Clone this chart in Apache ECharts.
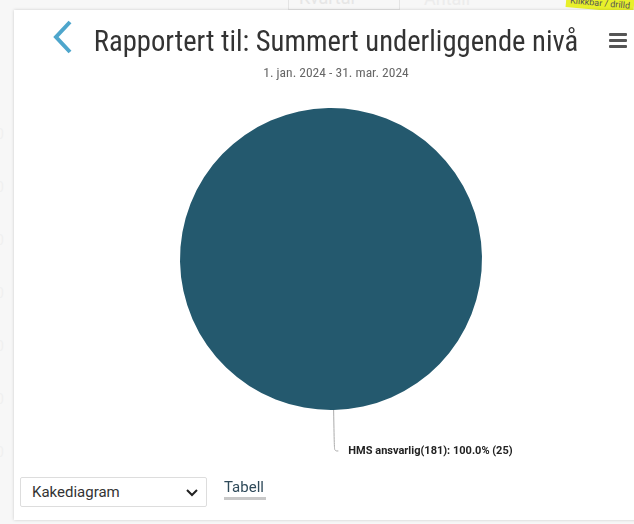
<!DOCTYPE html>
<html>
<head>
<meta charset="utf-8">
<script src="https://cdn.jsdelivr.net/npm/echarts@6/dist/echarts.min.js"></script>
<style>
  html, body { margin: 0; padding: 0; width: 634px; height: 524px; overflow: hidden; background: #f7f7f7; font-family: Roboto, sans-serif; }
  .bg-select { position: absolute; top: -14px; left: 288px; width: 112px; height: 24px; border: 1px solid #e4e4e4; color: #e6e6e6; font-size: 18px; padding-left: 10px; box-sizing: border-box; }
  .bg-antall { position: absolute; top: -12px; left: 424px; color: #ececec; font-size: 18px; }
  .bg-nums { position: absolute; left: -4px; top: 108px; color: #f0f0f0; font-size: 14px; line-height: 53px; }
  .hint { position: absolute; top: -3px; left: 566px; background: #e8f02a; color: #555; font-size: 9px; line-height: 10px; padding: 1px 4px 2px; transform: rotate(5deg); white-space: nowrap; }
  .card { position: absolute; left: 14px; top: 10px; width: 640px; height: 510px; background: #fff; box-shadow: 0 0 3px rgba(0,0,0,0.18); }
  #chart { position: absolute; left: 0; top: 0; width: 634px; height: 524px; }
  .back { position: absolute; left: 51px; top: 20px; width: 22px; height: 34px; }
  .menu { position: absolute; left: 609px; top: 33px; width: 18px; }
  .menu div { height: 3px; background: #555; margin-bottom: 3px; border-radius: 1px; }
  .sel { position: absolute; left: 20px; top: 477px; width: 187px; height: 30px; border: 1px solid #ddd; border-radius: 2px; background: #fff; box-sizing: border-box; font-size: 15px; color: #333; padding: 5px 0 0 11px; }
  .sel svg { position: absolute; right: 8px; top: 11px; }
  .tab { position: absolute; left: 224px; top: 478px; font-size: 15px; color: #2f4a5a; }
  .tab-bar { position: absolute; left: 224px; top: 497px; width: 42px; height: 3px; background: #c8c8c8; }
</style>
</head>
<body>
<div class="bg-select">Kvartal</div>
<div class="bg-antall">Antall</div>
<div class="bg-nums">0<br>0<br>0<br>0<br>0<br>0<br>0</div>
<div class="hint">Klikkbar / drilld</div>
<div class="card"></div>
<div id="chart"></div>
<svg class="back" viewBox="0 0 22 34"><polyline points="19,2 5,17 19,32" fill="none" stroke="#4ea6cc" stroke-width="4"/></svg>
<div class="menu"><div></div><div></div><div></div></div>
<div class="sel">Kakediagram<svg width="12" height="8" viewBox="0 0 12 8"><polyline points="1,1 6,6 11,1" fill="none" stroke="#222" stroke-width="2"/></svg></div>
<div class="tab">Tabell</div>
<div class="tab-bar"></div>
<script>
const titleText = 'Rapportert til: Summert underliggende nivå';
const subtitleText = '1. jan. 2024 - 31. mar. 2024';
const categories = ['HMS ansvarlig(181)'];
const counts = [25];
const sliceColors = ['#24596e'];

const chart = echarts.init(document.getElementById('chart'));
const total = counts.reduce((a, b) => a + b, 0);

chart.setOption({
  backgroundColor: 'transparent',
  animation: false,
  title: {
    text: titleText,
    subtext: subtitleText,
    left: 331,
    textAlign: 'center',
    top: 24,
    itemGap: 9,
    textStyle: { fontFamily: 'Roboto Condensed, Roboto', fontWeight: 'normal', fontSize: 28.6, color: '#333' },
    subtextStyle: { fontFamily: 'Roboto Condensed, Roboto', fontSize: 13.5, color: '#666' }
  },
  series: [{
    type: 'pie',
    center: [331, 259],
    radius: 151,
    // a hair past 90 so the single slice's label lands on the right
    startAngle: 91,
    data: categories.map((c, i) => ({ name: c, value: counts[i], itemStyle: { color: sliceColors[i] } })),
    label: {
      show: true,
      position: 'outside',
      fontFamily: 'Roboto',
      fontSize: 11,
      fontWeight: 'bold',
      color: '#222',
      distanceToLabelLine: 10,
      formatter: p => `${p.name}: ${(p.value / total * 100).toFixed(1)}% (${p.value})`
    },
    labelLine: { show: true, length: 41, length2: 4, smooth: 0.4, lineStyle: { color: '#aaa', width: 1 } }
  }]
});
</script>
</body>
</html>
